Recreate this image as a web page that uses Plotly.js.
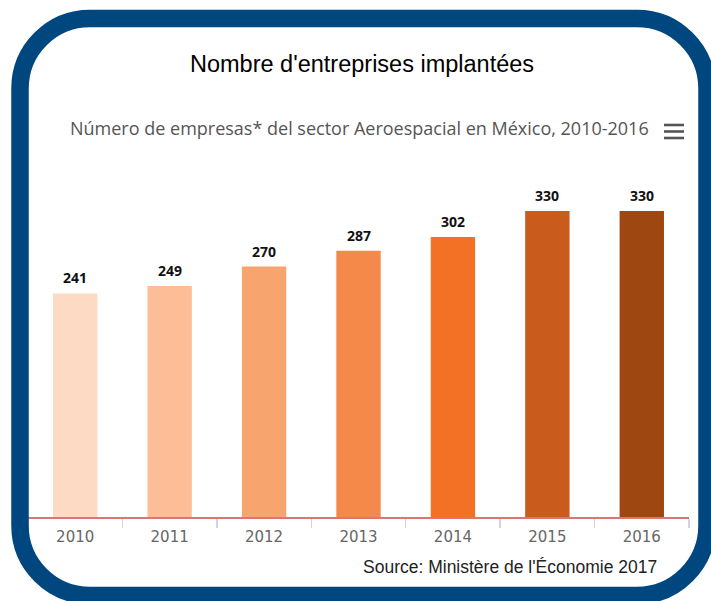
<!DOCTYPE html>
<html>
<head>
<meta charset="utf-8">
<script src="https://cdn.plot.ly/plotly-3.0.1.min.js"></script>
<style>
  html, body { margin: 0; padding: 0; background: #ffffff; }
  #chart { width: 711px; height: 601px; }
</style>
</head>
<body>
<div id="chart"></div>
<script>
// ---- data ----
const years = ['2010', '2011', '2012', '2013', '2014', '2015', '2016'];
const companies = [241, 249, 270, 287, 302, 330, 330];
const barColors = ['#fddac4', '#fcbd97', '#f7a46f', '#f5894a', '#f37124', '#c95c1c', '#9f4710'];
const titleText = "Nombre d'entreprises implantées";
const subtitleText = 'Número de empresas* del sector Aeroespacial en México, 2010-2016';
const sourceText = "Source: Ministère de l'Économie 2017";

// ---- layout geometry (pixels) ----
const W = 711, H = 601;
const M = { l: 28, r: 22, t: 146, b: 84 };
const PW = W - M.l - M.r, PH = H - M.t - M.b;
const px = x => (x - M.l) / PW;
const py = y => (H - M.b - y) / PH;

// rounded frame path in paper coords
function roundedRect(x0, y0, x1, y1, r) {
  const k = 0.5523 * r;
  const P = (x, y) => px(x).toFixed(5) + ',' + py(y).toFixed(5);
  return 'M' + P(x0 + r, y0) +
    ' L' + P(x1 - r, y0) +
    ' C' + P(x1 - r + k, y0) + ' ' + P(x1, y0 + r - k) + ' ' + P(x1, y0 + r) +
    ' L' + P(x1, y1 - r) +
    ' C' + P(x1, y1 - r + k) + ' ' + P(x1 - r + k, y1) + ' ' + P(x1 - r, y1) +
    ' L' + P(x0 + r, y1) +
    ' C' + P(x0 + r - k, y1) + ' ' + P(x0, y1 - r + k) + ' ' + P(x0, y1 - r) +
    ' L' + P(x0, y0 + r) +
    ' C' + P(x0, y0 + r - k) + ' ' + P(x0 + r - k, y0) + ' ' + P(x0 + r, y0) + ' Z';
}

const shapes = [
  { type: 'path', xref: 'paper', yref: 'paper', layer: 'above',
    path: roundedRect(20, 18.5, 707, 595.5, 70),
    line: { color: '#00467f', width: 17.5 } }
];
// hamburger menu icon
[125, 131.5, 138].forEach(y => shapes.push({
  type: 'line', xref: 'paper', yref: 'paper',
  x0: px(664), x1: px(684), y0: py(y), y1: py(y),
  line: { color: '#555555', width: 2.6 }
}));

const annotations = [
  { text: titleText, xref: 'paper', yref: 'paper', x: px(362), y: py(64),
    xanchor: 'center', yanchor: 'middle', showarrow: false,
    font: { family: 'Liberation Sans, Arial, sans-serif', size: 23.5, color: '#000000' } },
  { text: subtitleText, xref: 'paper', yref: 'paper', x: px(359.5), y: py(128),
    xanchor: 'center', yanchor: 'middle', showarrow: false,
    font: { family: 'Open Sans, sans-serif', size: 18, color: '#555555' } },
  { text: sourceText, xref: 'paper', yref: 'paper', x: px(659), y: py(567),
    xanchor: 'right', yanchor: 'middle', showarrow: false,
    font: { family: 'Liberation Sans, Arial, sans-serif', size: 17.5, color: '#222222' } }
];
// value labels: category axes take the category index for annotation x
years.forEach((yr, i) => annotations.push({
  text: '<b>' + companies[i] + '</b>', x: i, y: companies[i], xref: 'x', yref: 'y',
  xanchor: 'center', yanchor: 'bottom', yshift: 4, showarrow: false,
  font: { family: 'Open Sans, sans-serif', size: 14, color: '#111111' }
}));

const data = [{
  type: 'bar',
  x: years,
  y: companies,
  marker: { color: barColors, line: { width: 0 } },
  hoverinfo: 'x+y'
}];

const layout = {
  width: W, height: H,
  margin: M,
  paper_bgcolor: '#ffffff',
  plot_bgcolor: '#ffffff',
  showlegend: false,
  bargap: 0.53,
  xaxis: {
    type: 'category',
    range: [-0.5, years.length - 0.5],
    showline: true, linecolor: '#e07373', linewidth: 1.5,
    ticks: 'outside', tickson: 'boundaries', ticklen: 9, tickcolor: '#ccd6eb', tickwidth: 1.5,
    ticklabelstandoff: 5,
    tickfont: { family: 'DejaVu Sans, sans-serif', size: 15, color: '#666666' },
    showgrid: false, zeroline: false, fixedrange: true
  },
  yaxis: {
    range: [0, 400], visible: false, showgrid: false, zeroline: false, fixedrange: true
  },
  shapes: shapes,
  annotations: annotations
};

Plotly.newPlot('chart', data, layout, { displayModeBar: false, staticPlot: true });
</script>
</body>
</html>
